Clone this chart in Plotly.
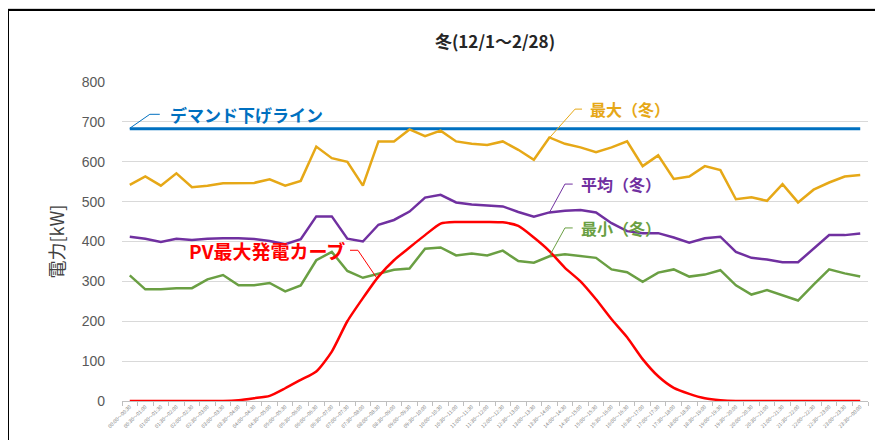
import plotly.graph_objects as go

# ---- data ----
slots = [f"{h:02d}:{m:02d}～{(h + (m + 30) // 60) % 24:02d}:{(m + 30) % 60:02d}"
         for h in range(24) for m in (0, 30)]

max_winter = [542, 563, 540, 571, 536, 540, 546, 547, 547, 556, 540, 552,
              638, 609, 600, 540, 651, 651, 681, 664, 678, 651, 645, 642,
              651, 630, 605, 661, 645, 636, 624, 636, 651, 589, 616, 557,
              563, 589, 579, 506, 511, 502, 544, 498, 530, 548, 563, 567]

avg_winter = [412, 407, 399, 407, 404, 407, 408, 408, 406, 401, 393, 406,
              463, 463, 407, 400, 442, 454, 475, 510, 517, 498, 493, 490,
              488, 474, 462, 473, 477, 479, 473, 446, 426, 421, 421, 410,
              397, 408, 412, 374, 359, 355, 348, 348, 382, 416, 416, 420]

min_winter = [315, 280, 280, 283, 283, 305, 316, 290, 290, 296, 275, 290,
              353, 374, 326, 309, 319, 329, 332, 382, 385, 365, 370, 365,
              377, 351, 347, 363, 368, 363, 359, 330, 323, 299, 322, 330,
              312, 317, 328, 290, 267, 278, 264, 252, 292, 330, 320, 312]

pv_max = [0, 0, 0, 0, 0, 0, 0, 2, 7, 13, 32, 53,
          74, 124, 200, 258, 312, 353, 385, 416, 445, 449, 449, 449,
          448, 439, 410, 376, 334, 300, 255, 205, 160, 105, 62, 33,
          18, 7, 2, 0, 0, 0, 0, 0, 0, 0, 0, 0]

demand_line = [683] * len(slots)

C_MAX = "#E6A817"
C_AVG = "#7030A0"
C_MIN = "#6A9F43"
C_PV = "#FF0000"
C_DEM = "#0070C0"

fig = go.Figure()
fig.add_trace(go.Scatter(x=slots, y=demand_line, mode="lines",
                         line=dict(color=C_DEM, width=3), name="デマンド下げライン"))
fig.add_trace(go.Scatter(x=slots, y=max_winter, mode="lines",
                         line=dict(color=C_MAX, width=2.5), name="最大（冬）"))
fig.add_trace(go.Scatter(x=slots, y=avg_winter, mode="lines",
                         line=dict(color=C_AVG, width=2.5), name="平均（冬）"))
fig.add_trace(go.Scatter(x=slots, y=min_winter, mode="lines",
                         line=dict(color=C_MIN, width=2.5), name="最小（冬）"))
fig.add_trace(go.Scatter(x=slots, y=pv_max, mode="lines",
                         line=dict(color=C_PV, width=2.5, shape="spline", smoothing=0.6),
                         name="PV最大発電カーブ"))

JP = "Noto Sans CJK JP"

# leader lines (label callouts), in axis units (category index, kW)
leaders = [
    (C_DEM, [(0.0, 684), (1.29, 719), (1.93, 719)]),
    (C_MAX, [(26.98, 659), (28.65, 732), (29.1, 732)]),
    (C_AVG, [(26.98, 471), (28.0, 544), (28.5, 544)]),
    (C_MIN, [(27.04, 366), (28.0, 434), (28.5, 434)]),
    (C_PV, [(14.17, 378), (14.68, 378), (15.9, 308)]),
]

# plot area in figure pixels (page is offset 8px by the browser)
L, T, B, R = 114, 74, 393, 860
W, H = 883, 440

shapes = []
# chart frame (window background + chart area border)
shapes.append(dict(type="rect", xref="paper", yref="paper",
                   x0=(0 - L) / (R - L), x1=1.2, y0=-0.4, y1=(B - 2) / (B - T),
                   fillcolor="white", line=dict(color="black", width=2), layer="below"))
for col, pts in leaders:
    for (xa, ya), (xb, yb) in zip(pts[:-1], pts[1:]):
        shapes.append(dict(type="line", xref="x", yref="y", x0=xa, y0=ya, x1=xb, y1=yb,
                           line=dict(color=col, width=1)))

annotations = [
    dict(x=2.45, y=719, text="<b>デマンド下げライン</b>", font=dict(color=C_DEM, size=17, family=JP),
         xanchor="left"),
    dict(x=29.5, y=732, text="<b>最大（冬）</b>", font=dict(color=C_MAX, size=16, family=JP),
         xanchor="left"),
    dict(x=28.9, y=544, text="<b>平均（冬）</b>", font=dict(color=C_AVG, size=16, family=JP),
         xanchor="left"),
    dict(x=28.9, y=434, text="<b>最小（冬）</b>", font=dict(color=C_MIN, size=16, family=JP),
         xanchor="left"),
    dict(x=13.95, y=378, text="<b>PV最大発電カーブ</b>", font=dict(color=C_PV, size=19, family=JP),
         xanchor="right"),
]
for a in annotations:
    a.update(xref="x", yref="y", showarrow=False, yanchor="middle")

fig.update_layout(
    width=W, height=H,
    margin=dict(l=L, r=W - R, t=T, b=H - B),
    paper_bgcolor="#D6D6D6",
    plot_bgcolor="rgba(0,0,0,0)",
    showlegend=False,
    title=dict(text="<b>冬(12/1～2/28)</b>", x=0.5, xref="paper", xanchor="center",
               y=1 - 34 / H, yanchor="middle",
               font=dict(size=17, color="#262626", family=JP)),
    shapes=shapes,
    annotations=annotations,
    font=dict(family=JP),
)
fig.update_xaxes(type="category", tickson="boundaries", ticks="outside", ticklen=4,
                 tickcolor="#BFBFBF", showgrid=False, showline=True, linecolor="#BFBFBF",
                 tickangle=-45, tickfont=dict(size=5, color="#7F7F7F"), range=[-0.5, 47.5],
                 automargin=False)
fig.update_yaxes(range=[0, 800], dtick=100, showgrid=True, gridcolor="#D9D9D9", gridwidth=1,
                 zeroline=False, showline=False, ticks="", ticklabelstandoff=16,
                 tickfont=dict(size=14, color="#595959", family="Liberation Sans"),
                 title=dict(text="電力[kW]", font=dict(size=18, color="#404040", family=JP),
                            standoff=12), automargin=False)

fig.write_html("out.html")
